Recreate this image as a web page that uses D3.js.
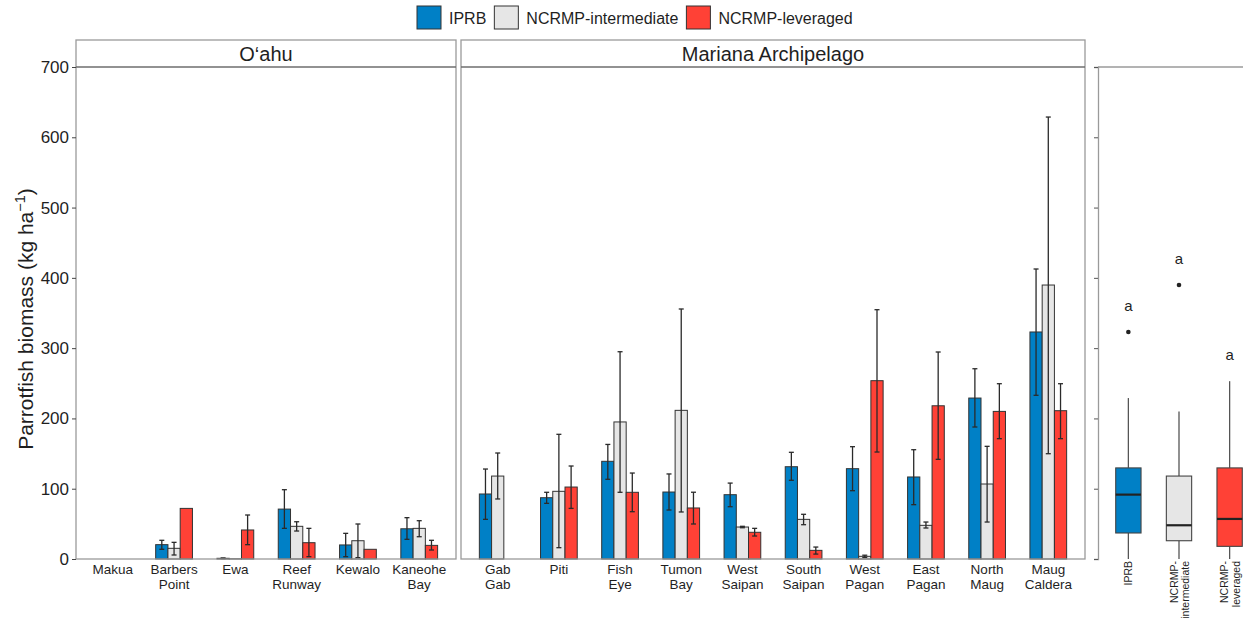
<!DOCTYPE html>
<html>
<head>
<meta charset="utf-8">
<script src="https://cdn.jsdelivr.net/npm/d3@7"></script>
<style>
  body { margin: 0; background: #fff; }
  text { font-family: "Liberation Sans", Arial, Helvetica, sans-serif; fill: #1f1f1f; }
</style>
</head>
<body>
<svg id="chart" width="1243" height="621"></svg>
<script>
// ---- data -------------------------------------------------------------
const groups = ["IPRB", "NCRMP-intermediate", "NCRMP-leveraged"];
const groupColors = ["#0080C6", "#E6E6E6", "#FF4136"];
const boxLabels = [["IPRB"], ["NCRMP-", "intermediate"], ["NCRMP-", "leveraged"]];

const regions = ["O‘ahu", "Mariana Archipelago"];
const oahuSites = ["Makua", "Barbers\nPoint", "Ewa", "Reef\nRunway", "Kewalo", "Kaneohe\nBay"];
const marianaSites = ["Gab\nGab", "Piti", "Fish\nEye", "Tumon\nBay", "West\nSaipan",
                      "South\nSaipan", "West\nPagan", "East\nPagan", "North\nMaug", "Maug\nCaldera"];

// site means and error-bar limits, O‘ahu sites first, then Mariana sites (null = not surveyed)
const iprbMean = [null, 20.4, 1.0, 71, 20, 43, 92.5, 87.2, 139, 95.3, 91.5, 131.3, 128.5, 116.7, 229, 323];
const iprbLow  = [null, 13.8, 0.5, 43.6, 3.3, 28, 56.4, 79.2, 113.4, 69.7, 74.4, 112, 97.2, 77.3, 187.8, 232.9];
const iprbHigh = [null, 26.6, 1.5, 98.6, 36.5, 58.8, 128, 94.9, 163, 121, 108, 151.8, 159.8, 155.5, 270.7, 412.6];

const intMean = [null, 15.2, 0.3, 46.5, 26, 43.6, 118, 96.3, 195, 211.5, 45.5, 56.4, 3.8, 47.9, 106.7, 389.8];
const intLow  = [null, 5.7, null, 39.8, 1.9, 31.7, 85.4, 16.1, 94.9, 66.9, 44.5, 48.8, 2.2, 44.1, 52.6, 149.8];
const intHigh = [null, 23.7, null, 53, 49.8, 54.5, 150.8, 177.4, 294.9, 355.7, 46.5, 63.6, 5.4, 52.6, 160.3, 628.8];

const levMean = [null, 72, 41.3, 23.2, 13.8, 19.4, null, 102.4, 94.9, 72.6, 38, 12.3, 253.7, 218, 210, 211];
const levLow  = [null, null, 20.4, 3.3, null, 12.8, null, 72, 67.3, 49.8, 32.7, 7, 152.2, 141.8, 171.2, 171.2];
const levHigh = [null, null, 62.6, 43.6, null, 26.6, null, 132.3, 122.3, 95, 43.6, 17, 354.7, 294.5, 249.4, 249.4];

// box summaries of site means: lower whisker, Q1, median, Q3, upper whisker
const boxIPRB = [0, 37, 91.6, 129.6, 229];
const boxInt  = [0, 26, 48, 118, 210];
const boxLev  = [0, 18, 57, 129.6, 253];
const boxOutliers = [[323], [389.8], []];
const boxLetters = ["a", "a", "a"];

const yTicks = [0, 100, 200, 300, 400, 500, 600, 700];
const yTitle = "Parrotfish biomass (kg ha";

// ---- layout -----------------------------------------------------------
const svg = d3.select("#chart");
const plotTop = 67, plotBottom = 559, stripTop = 40;
const panels = [
  { name: regions[0], sites: oahuSites, offset: 0, x0: 76, x1: 456 },
  { name: regions[1], sites: marianaSites, offset: oahuSites.length, x0: 461, x1: 1085 }
];
const boxX0 = 1098;

const y = d3.scaleLinear().domain([0, 700]).range([plotBottom, plotTop]);

const means = [iprbMean, intMean, levMean];
const lows = [iprbLow, intLow, levLow];
const highs = [iprbHigh, intHigh, levHigh];

const borderColor = "#9a9a9a";
const inkColor = "#2a2a2a";

// ---- bar panels -------------------------------------------------------
panels.forEach((p, pi) => {
  const g = svg.append("g");
  const x = d3.scaleBand().domain(p.sites.map((d, i) => i))
    .range([p.x0, p.x1]).paddingInner(0).paddingOuter(0.1);
  const gx = d3.scaleBand().domain(groups).range([0.2, 0.8]);
  const bw = x.bandwidth();

  // strip
  g.append("rect").attr("x", p.x0).attr("y", stripTop)
    .attr("width", p.x1 - p.x0).attr("height", plotTop - stripTop)
    .attr("fill", "#fff");
  g.append("text").attr("x", (p.x0 + p.x1) / 2).attr("y", (stripTop + plotTop) / 2 + 7)
    .attr("text-anchor", "middle").style("font-size", "20px").text(p.name);

  // bars and error bars
  p.sites.forEach((s, i) => {
    const k = p.offset + i;
    groups.forEach((grp, gi) => {
      const m = means[gi][k];
      if (m == null) return;
      const bx = x(i) + gx(grp) * bw;
      const w = gx.bandwidth() * bw;
      g.append("rect").attr("x", bx).attr("y", y(m))
        .attr("width", w).attr("height", y(0) - y(m))
        .attr("fill", groupColors[gi]).attr("stroke", "#333").attr("stroke-width", 1);
      const lo = lows[gi][k], hi = highs[gi][k];
      if (lo != null && hi != null) {
        const cx = bx + w / 2;
        g.append("line").attr("x1", cx).attr("x2", cx).attr("y1", y(lo)).attr("y2", y(hi))
          .attr("stroke", inkColor).attr("stroke-width", 1.3);
        [lo, hi].forEach(v => g.append("line").attr("x1", cx - 2.5).attr("x2", cx + 2.5)
          .attr("y1", y(v)).attr("y2", y(v)).attr("stroke", inkColor).attr("stroke-width", 1.3));
      }
    });
    // category label
    const lines = s.split("\n");
    const t = g.append("text").attr("text-anchor", "middle").style("font-size", "13.5px")
      .attr("transform", `translate(${x(i) + bw / 2},${plotBottom + 15})`);
    lines.forEach((ln, li) => t.append("tspan").attr("x", 0).attr("dy", li ? 15 : 0).text(ln));
  });

  // panel border and strip divider
  g.append("rect").attr("x", p.x0).attr("y", stripTop)
    .attr("width", p.x1 - p.x0).attr("height", plotBottom - stripTop)
    .attr("fill", "none").attr("stroke", borderColor).attr("stroke-width", 1.3);
  g.append("line").attr("x1", p.x0).attr("x2", p.x1).attr("y1", plotTop).attr("y2", plotTop)
    .attr("stroke", "#6e6e6e").attr("stroke-width", 1.3);
});

// ---- y axis -----------------------------------------------------------
const yAxis = svg.append("g").attr("transform", `translate(${panels[0].x0},0)`)
  .call(d3.axisLeft(y).tickValues(yTicks).tickSize(4).tickPadding(3));
yAxis.select(".domain").remove();
yAxis.selectAll(".tick line").attr("stroke", "#444");
yAxis.selectAll(".tick text").style("font-size", "17px")
  .style("font-family", "'Liberation Sans', Arial, sans-serif").attr("fill", "#1f1f1f");

const yt = svg.append("text")
  .attr("transform", `translate(33,${(plotTop + plotBottom) / 2 + 6}) rotate(-90)`)
  .attr("text-anchor", "middle").style("font-size", "21px");
yt.append("tspan").text(yTitle);
yt.append("tspan").attr("dy", -8).style("font-size", "14.5px").text("−1");
yt.append("tspan").attr("dy", 8).text(")");

// ---- box panel --------------------------------------------------------
const bxScale = d3.scaleBand().domain(groups).range([boxX0, 1260]).paddingInner(0).paddingOuter(0.1);
const boxes = [boxIPRB, boxInt, boxLev];
const bg = svg.append("g");
const bAxis = bg.append("g").attr("transform", `translate(${boxX0},0)`)
  .call(d3.axisLeft(y).tickValues(yTicks).tickSize(4).tickFormat(""));
bAxis.select(".domain").attr("stroke", borderColor).attr("stroke-width", 1.3);
bAxis.selectAll(".tick line").attr("stroke", "#555");
bg.append("line").attr("x1", boxX0).attr("x2", 1243).attr("y1", plotTop).attr("y2", plotTop)
  .attr("stroke", borderColor).attr("stroke-width", 1.3);

groups.forEach((grp, gi) => {
  const b = boxes[gi];
  const cx = bxScale(grp) + bxScale.bandwidth() / 2;
  const w = bxScale.bandwidth() * 0.5;
  bg.append("line").attr("x1", cx).attr("x2", cx).attr("y1", y(b[0])).attr("y2", y(b[1]))
    .attr("stroke", "#555").attr("stroke-width", 1.3);
  bg.append("line").attr("x1", cx).attr("x2", cx).attr("y1", y(b[3])).attr("y2", y(b[4]))
    .attr("stroke", "#555").attr("stroke-width", 1.3);
  bg.append("rect").attr("x", cx - w / 2).attr("y", y(b[3]))
    .attr("width", w).attr("height", y(b[1]) - y(b[3]))
    .attr("fill", groupColors[gi]).attr("stroke", "#444").attr("stroke-width", 1.1);
  bg.append("line").attr("x1", cx - w / 2).attr("x2", cx + w / 2).attr("y1", y(b[2])).attr("y2", y(b[2]))
    .attr("stroke", "#222").attr("stroke-width", 2.2);
  boxOutliers[gi].forEach(v => bg.append("circle").attr("cx", cx).attr("cy", y(v)).attr("r", 2.3)
    .attr("fill", "#222"));
  const top = d3.max([b[4], ...boxOutliers[gi]]);
  bg.append("text").attr("x", cx).attr("y", y(top + 37) + 5).attr("text-anchor", "middle")
    .style("font-size", "15px").text(boxLetters[gi]);
  // rotated tick labels hanging below the panel
  const nLines = boxLabels[gi].length;
  const lt = bg.append("text").attr("text-anchor", "end").style("font-size", "10.5px")
    .attr("transform", `translate(${nLines > 1 ? cx - 1.5 : cx + 4},${plotBottom + 2}) rotate(-90)`);
  boxLabels[gi].forEach((ln, li) => lt.append("tspan").attr("x", 0).attr("dy", li ? 11.5 : 0).text(ln));
});

// ---- legend -----------------------------------------------------------
let lx = 417;
groups.forEach((grp, gi) => {
  svg.append("rect").attr("x", lx).attr("y", 6).attr("width", 24).attr("height", 23)
    .attr("fill", groupColors[gi]).attr("stroke", "#333").attr("stroke-width", 1);
  const t = svg.append("text").attr("x", lx + 32).attr("y", 23.5).style("font-size", "16px").text(grp);
  lx += 32 + t.node().getComputedTextLength() + 8;
});
</script>
</body>
</html>
